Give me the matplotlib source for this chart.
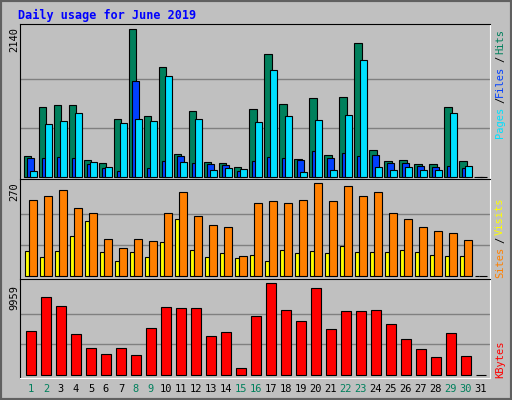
import numpy as np
import matplotlib
matplotlib.use("Agg")
import matplotlib.pyplot as plt
from matplotlib.patches import Rectangle

days = np.arange(1, 32)
hits = [300, 1021, 1050, 1050, 252, 208, 847, 2140, 891, 1588, 339, 963, 223, 208, 150,
        992, 1777, 1065, 266, 1138, 324, 1152, 1937, 397, 237, 252, 194, 194, 1021, 237, 0]
files = [281, 281, 295, 281, 194, 136, 92, 1385, 136, 237, 310, 208, 194, 179, 92,
         237, 295, 281, 252, 383, 281, 353, 310, 324, 208, 208, 165, 150, 165, 136, 0]
pages = [92, 775, 818, 934, 223, 150, 789, 847, 818, 1457, 223, 847, 107, 136, 121,
         804, 1545, 891, 77, 833, 107, 905, 1690, 150, 107, 150, 107, 107, 934, 165, 0]
visits = [73, 53, 73, 117, 161, 70, 44, 70, 53, 97, 167, 76, 53, 67, 50,
          61, 44, 76, 67, 73, 67, 88, 70, 70, 70, 76, 70, 61, 58, 58, 0]
sites = [222, 234, 251, 199, 184, 108, 82, 108, 102, 184, 246, 173, 149, 143, 56,
         211, 219, 211, 222, 270, 219, 263, 234, 246, 184, 167, 143, 129, 126, 105, 0]
kbytes = [4723, 8457, 7469, 4393, 2856, 2197, 2856, 2087, 5053, 7359, 7249, 7249, 4174, 4613, 769,
          6371, 9959, 7030, 5821, 9446, 4943, 6920, 6920, 7030, 5492, 3844, 2746, 1867, 4503, 1977, 0]
weekend = [1, 2, 8, 9, 15, 16, 22, 23, 29, 30]

BG = '#c0c0c0'
C_HITS, C_FILES, C_PAGES = '#00805c', '#0040ff', '#00e0ff'
C_VISITS, C_SITES, C_KB = '#ffff00', '#ff8000', '#ff0000'
MONO = 'DejaVu Sans Mono'

fig = plt.figure(figsize=(5.12, 4.0), dpi=100, facecolor=BG)
fig.patches.append(Rectangle((0, 0), 1, 1, transform=fig.transFigure, fill=False,
                             edgecolor='#606060', lw=3))

L, W = 20 / 512, 470 / 512
XL = (0.27, 31.6)

def setup(ax, top, grid):
    ax.set_facecolor(BG)
    ax.set_xlim(*XL)
    ax.set_ylim(-top * 0.014 if top > 300 else -10, top * 1.035)
    for g in grid:
        ax.axhline(g, color='#808080', lw=1, zorder=0)
    ax.set_xticks([])
    ax.set_yticks([])
    for s in ['left', 'top']:
        ax.spines[s].set_color('black')
    for s in ['right', 'bottom']:
        ax.spines[s].set_color('white')

# hits / files / pages
ax1 = fig.add_axes([L, 0.5525, W, 0.3875])
setup(ax1, 2140, [713, 1427])
ax1.set_ylim(-29, 2217)
ax1.bar(days - 0.2, hits, width=0.47, color=C_HITS, edgecolor='black', lw=0.8)
ax1.bar(days - 0.03, files, width=0.47, color=C_FILES, edgecolor='black', lw=0.8)
ax1.bar(days + 0.17, pages, width=0.5, color=C_PAGES, edgecolor='black', lw=0.8)

# visits / sites
ax2 = fig.add_axes([L, 0.3025, W, 0.25])
setup(ax2, 270, [90, 180])
ax2.set_ylim(-10, 282.6)
ax2.bar(days - 0.27, visits, width=0.27, color=C_VISITS, edgecolor='black', lw=0.8)
ax2.bar(days + 0.13, sites, width=0.53, color=C_SITES, edgecolor='black', lw=0.8)

# kbytes
ax3 = fig.add_axes([L, 0.055, W, 0.2475])
setup(ax3, 9959, [3320, 6639])
ax3.set_ylim(-372, 10430)
ax3.bar(days, kbytes, width=0.68, color=C_KB, edgecolor='black', lw=0.8)

for d in days:
    fig.text((20 + (d - XL[0]) * 15) / 512, 1 - 389 / 400, str(d), ha='center', va='center',
             fontsize=7.5, family=MONO, color=C_HITS if d in weekend else 'black')

fig.text(18 / 512, 1 - 15 / 400, 'Daily usage for June 2019', fontsize=8.5, family=MONO,
         weight='bold', color='#0000ff', va='center')

for y, s in [(40, '2140'), (192, '270'), (297, '9959')]:
    fig.text(14 / 512, 1 - y / 400, s, rotation=90, ha='center', va='center',
             fontsize=7.5, family=MONO)

side = [(122, 'Pages', C_PAGES), (100, '/', 'black'), (81, 'Files', C_FILES),
        (59, '/', 'black'), (41, 'Hits', C_HITS),
        (262, 'Sites', C_SITES), (240, '/', 'black'), (216, 'Visits', C_VISITS),
        (359, 'KBytes', C_KB)]
for y, s, c in side:
    fig.text(500 / 512, 1 - y / 400, s, rotation=90, ha='center', va='center',
             fontsize=7.5, family=MONO, color=c)

fig.savefig('out.png', dpi=100, facecolor=BG)
